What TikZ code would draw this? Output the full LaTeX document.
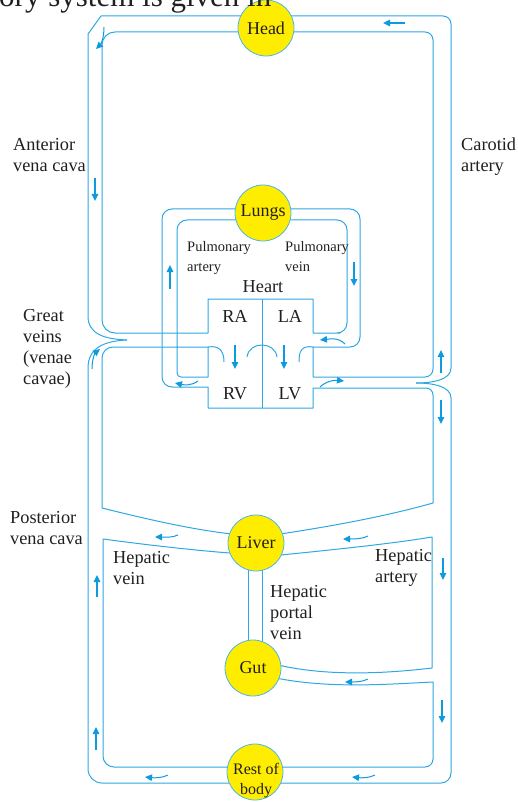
\documentclass[tikz,border=0pt]{standalone}
\usepackage{fontspec}
\setmainfont{Liberation Serif}
\usetikzlibrary{arrows.meta}
\definecolor{vblue}{RGB}{45,168,226}
\definecolor{fblue}{RGB}{14,154,222}
\definecolor{oyellow}{RGB}{255,237,0}
\definecolor{ink}{RGB}{35,31,32}
\tikzset{
    every picture/.style={x=1pt,y=-1pt,line join=round},
    vessel/.style={draw=vblue,line width=1pt},
    flow/.style={-{Triangle[length=7pt,width=6.5pt]},draw=fblue,line width=1.3pt},
    organ/.style={circle,draw=vblue!85,fill=oyellow,line width=0.8pt,minimum size=56pt,
        inner sep=0pt,text=ink,align=center,font=\fontsize{18}{20}\selectfont},
    txt/.style={inner sep=0pt,text=ink,font=\fontsize{18.3}{21}\selectfont},
    lbl/.style={txt,anchor=north west,align=left,font=\fontsize{18.3}{21}\selectfont},
    small/.style={lbl,font=\fontsize{14.5}{20}\selectfont}
}
\begin{document}
\begin{tikzpicture}
    \useasboundingbox (0,0) rectangle (517,802);

    \coordinate (vctip) at (127,340);
    \coordinate (aotip) at (416,383);

    % head circuit
    \draw[vessel] (vctip) .. controls (104,339) and (88,334) .. (88,316) -- (88,34) -- (101,16) -- (266,16);
    \draw[vessel] (266,16) [rounded corners=8pt] -- (451,16) -- (451,300) [sharp corners] -- (451,368)
        .. controls (451,380) and (432,383) .. (aotip);
    % lungs, heart and head, inner lines
    \draw[vessel] (263,220) [rounded corners=10pt] -- (347,220) -- (347,333) -- (330,333) [sharp corners]
        -- (313,333) -- (313,299) -- (208,299) -- (208,333) -- (150,333) [rounded corners=13pt]
        -- (102,333) -- (102,32) -- (266,32);
    \draw[vessel] (266,32) [rounded corners=8pt] -- (433,32) -- (433,377) -- (400,377) [sharp corners]
        -- (313,377) -- (313,347) -- (340,347) [rounded corners=10pt] -- (360,347) -- (360,209) -- (263,209);
    \draw[vessel] (263,209) [rounded corners=10pt] -- (162,209) -- (162,387) -- (190,387) [sharp corners]
        -- (208,387) -- (208,408) -- (313,408) -- (313,388) -- (400,388) [rounded corners=7pt]
        -- (433,388) -- (433,470) [sharp corners] -- (433,503) .. controls (380,518) and (320,528) .. (280,534);
    \draw[vessel] (263,220) [rounded corners=10pt] -- (177,220) -- (177,360) [rounded corners=4pt]
        -- (177,377) -- (190,377) [sharp corners] -- (208,377) -- (208,347) -- (150,347) [rounded corners=11pt]
        -- (102,347) -- (102,470) [sharp corners] -- (102,508) .. controls (150,520) and (195,530) .. (232,534);
    % valves
    \draw[vessel] (208,347) .. controls (220,345) and (224,352) .. (224,362);
    \draw[vessel] (247,357) .. controls (249,341) and (275,341) .. (277,357);
    \draw[vessel] (313,347) .. controls (301,345) and (299,352) .. (299,362);
    \draw[vessel] (262,299) -- (262,408);

    % liver, gut and rest of body
    \draw[vessel] (230,553) .. controls (190,550) and (140,544) .. (103,539) -- (103,600) [rounded corners=11pt]
        -- (103,767) -- (255,767);
    \draw[vessel] (281,555) .. controls (330,550) and (390,544) .. (432,537) -- (432,668)
        .. controls (390,673) and (330,677) .. (278,665);
    \draw[vessel] (276,678) .. controls (330,689) and (390,684) .. (433,682) -- (433,720) [rounded corners=8pt]
        -- (433,767) -- (255,767);
    \draw[vessel] (vctip) .. controls (104,341) and (88,348) .. (88,368) -- (88,700) [rounded corners=14pt]
        -- (88,783) -- (255,783);
    \draw[vessel] (aotip) .. controls (432,383) and (451,386) .. (451,398) -- (451,700) [rounded corners=10pt]
        -- (451,783) -- (255,783);
    \draw[vessel] (248,565) -- (248,645);
    \draw[vessel] (262,565) -- (262,645);

    \node[organ] (head) at (266,28) {Head};
    \node[organ] (lungs) at (263,213) {Lungs};
    \node[organ] (liver) at (256,543) {Liver};
    \node[organ] (gut) at (253,668) {Gut};
    \node[organ] (rest) at (255,772) {};
    \node[txt,align=center,font=\fontsize{16}{20}\selectfont] (restname) at (256,781) {Rest of\\body};

    % flow
    \draw[flow] (405,23) -- (383,23);
    \draw[flow,line width=1pt] (104,27) .. controls (104,38) and (101,44) .. (96,49);
    \draw[flow] (95,178) -- (95,201);
    \draw[flow] (170,289) -- (170,265);
    \draw[flow] (354,262) -- (354,286);
    \draw[flow,line width=1pt] (345,344) .. controls (338,337) and (330,339) .. (320,340);
    \draw[flow,line width=1pt] (198,381) .. controls (191,386) and (184,385) .. (175,383);
    \draw[flow] (235,345) -- (235,369);
    \draw[flow] (284,345) -- (284,369);
    \draw[flow,line width=1pt] (320,387) .. controls (326,381) and (335,380) .. (344,381);
    \draw[flow,line width=1pt] (92,369) .. controls (92,359) and (95,353) .. (100,349);
    \draw[flow] (441,373) -- (441,350);
    \draw[flow] (441,400) -- (441,424);
    \draw[flow,line width=1pt] (178,535) .. controls (172,538) and (165,537) .. (155,537);
    \draw[flow,line width=1pt] (368,536) .. controls (362,539) and (355,539) .. (343,539);
    \draw[flow] (443,558) -- (443,580);
    \draw[flow] (97,597) -- (97,575);
    \draw[flow,line width=1pt] (368,679) .. controls (362,682) and (355,682) .. (345,682);
    \draw[flow] (442,700) -- (442,723);
    \draw[flow,line width=1pt] (375,775) .. controls (369,778) and (362,778) .. (352,777);
    \draw[flow,line width=1pt] (168,775) .. controls (162,778) and (155,778) .. (145,777);
    \draw[flow] (96,750) -- (96,727);

    % labels
    \node[lbl] (ant) at (13,138) {Anterior\\vena cava};
    \node[lbl] (carotid) at (461,138) {Carotid\\artery};
    \node[lbl] (great) at (23,309) {Great\\veins\\(venae\\cavae)};
    \node[lbl] (post) at (10,511) {Posterior\\vena cava};
    \node[small] (pulart) at (187,241) {Pulmonary\\artery};
    \node[small] (pulvein) at (285,241) {Pulmonary\\vein};
    \node[txt] (heart) at (263,287) {Heart};
    \node[txt] (ra) at (235,316) {RA};
    \node[txt] (la) at (290,316) {LA};
    \node[txt] (rv) at (235,394) {RV};
    \node[txt] (lv) at (290,394) {LV};
    \node[lbl] (hepvein) at (113,551) {Hepatic\\vein};
    \node[lbl] (hepart) at (375,549) {Hepatic\\artery};
    \node[lbl] (portal) at (270,585) {Hepatic\\portal\\vein};
    \node[txt,anchor=base west,font=\fontsize{31}{36}\selectfont] (page) at (-1,7) {ory system is given in};
\end{tikzpicture}
\end{document}
